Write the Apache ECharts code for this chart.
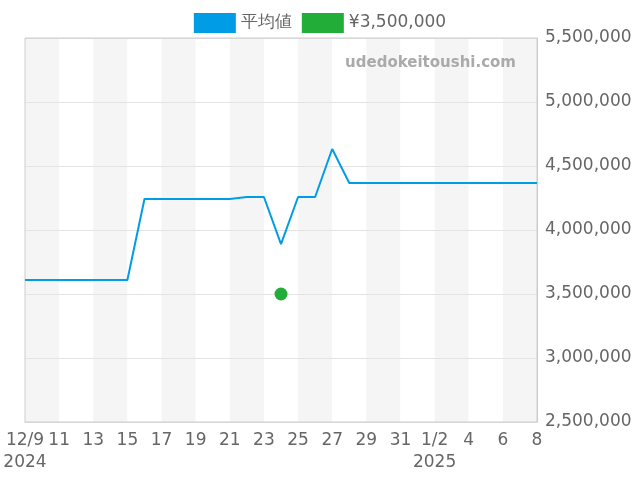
<!DOCTYPE html>
<html lang="en">
<head>
    <meta charset="UTF-8" />
    <script src="https://cdn.jsdelivr.net/npm/echarts@6/dist/echarts.min.js"></script>
    <style>body{margin:0}#chart{width:640px;height:480px}</style>
</head>
<body>
    <div id="chart"></div>
    <script>
        // dates 12/9/2024 .. 1/8/2025
        let dates = [];
        for (let d = 9; d <= 31; d++) dates.push("12/" + d);
        for (let d = 1; d <= 8; d++) dates.push("1/" + d);

        let avgValues = [
            3610000, 3610000, 3610000, 3610000, 3610000, 3610000, 3610000,
            4242000, 4242000, 4242000, 4242000, 4242000, 4242000,
            4258000, 4258000, 3890000, 4258000, 4258000, 4633000,
            4367000, 4367000, 4367000, 4367000, 4367000, 4367000, 4367000,
            4367000, 4367000, 4367000, 4367000, 4367000
        ];
        let pointValues = [["12/24", 3500000]];

        let myChart = echarts.init(document.getElementById("chart"));
        myChart.setOption({
            animation: false,
            textStyle: { fontFamily: "DejaVu Sans" },
            legend: {
                top: 8,
                itemWidth: 42, itemHeight: 20, itemGap: 10,
                textStyle: { fontSize: 17, color: "#666" },
                data: [
                    { name: "平均値", icon: "rect" },
                    { name: "¥3,500,000", icon: "rect" }
                ]
            },
            graphic: [{
                type: "text", right: 124, top: 56, z: 100,
                style: { text: "udedokeitoushi.com", fill: "#aaa", font: "bold 15px DejaVu Sans" }
            }],
            grid: { left: 25, right: 103, top: 38, bottom: 58, show: true, borderColor: "#ccc", borderWidth: 1, z: 5 },
            xAxis: {
                type: "category",
                data: dates,
                boundaryGap: false,
                axisLine: { lineStyle: { color: "#ccc" } },
                axisTick: { show: false },
                axisLabel: {
                    interval: 1, color: "#666", fontSize: 17, lineHeight: 22,
                    formatter: function (v) {
                        if (v == "12/9") return "12/9\n2024";
                        if (v == "1/2") return "1/2\n2025";
                        if (v.startsWith("12/")) return v.slice(3);
                        return v.slice(2);
                    }
                },
                splitArea: { show: true, interval: 1, areaStyle: { color: ["#f5f5f5", "#ffffff"] } }
            },
            yAxis: {
                type: "value", position: "right", z: 3,
                min: 2500000, max: 5500000, interval: 500000,
                axisLine: { show: true, lineStyle: { color: "#ccc" } },
                axisLabel: { color: "#666", fontSize: 17, formatter: v => v.toLocaleString("en-US") },
                splitLine: { lineStyle: { color: "#e3e3e3" } }
            },
            series: [
                {
                    name: "平均値", type: "line", data: avgValues, z: 10,
                    showSymbol: false, color: "#009de6", lineStyle: { width: 2 }
                },
                {
                    name: "¥3,500,000", type: "scatter", data: pointValues, z: 11,
                    color: "#22ac38", itemStyle: { opacity: 1 }, symbol: "circle", symbolSize: 13
                }
            ]
        });
    </script>
</body>
</html>
